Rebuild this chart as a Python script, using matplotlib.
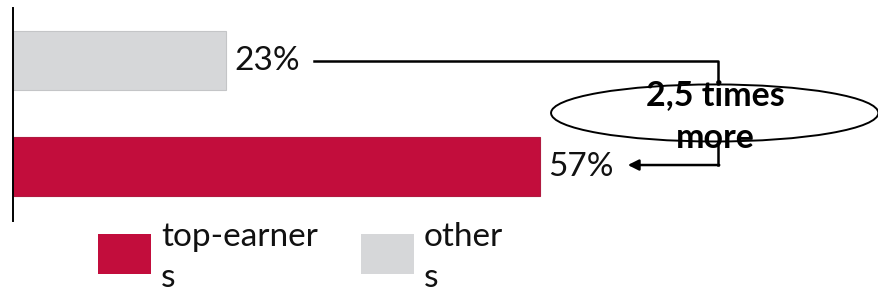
import matplotlib
matplotlib.use("Agg")
import matplotlib.pyplot as plt
from matplotlib.patches import Ellipse, Rectangle

# ---- data ----
categories = ["top-earners", "others"]
values = [57, 23]
value_labels = ["57%", "23%"]
colors = ["#C20D3C", "#D6D7D9"]
edge_colors = ["#B01A40", "#C4C5C7"]
legend_labels = ["top-earner\ns", "other\ns"]
callout_text = "2,5 times\nmore"

plt.rcParams['font.family'] = ['Lato', 'DejaVu Sans']

W, H = 879, 295
fig = plt.figure(figsize=(W / 100, H / 100), dpi=100)
ax = fig.add_axes([13 / W, 1 - 221 / H, (W - 13) / W, 213 / H])

ypos = list(range(len(categories)))
ax.barh(ypos, values, height=0.557, color=colors, edgecolor=edge_colors, linewidth=0.8)
ax.set_xlim(0, 866 / 9.245)
ax.set_ylim(-0.515, 1.498)

for y, v, lab in zip(ypos, values, value_labels):
    ax.text(v + 0.9, y, lab, va='center', ha='left', fontsize=24, color='#111111')

for s in ['top', 'right', 'bottom']:
    ax.spines[s].set_visible(False)
ax.spines['left'].set_linewidth(1.4)
ax.set_xticks([])
ax.set_yticks([])

# callout
xv = 76.3
ax.plot([32.6, xv, xv], [ypos[1], ypos[1], 0.776], color='black', lw=1.8)
ax.plot([xv, xv], [0.236, ypos[0] + 0.014], color='black', lw=1.8)
ax.annotate('', xy=(66.5, ypos[0] + 0.014), xytext=(xv + 0.09, ypos[0] + 0.014),
            arrowprops=dict(arrowstyle='-|>', color='black', lw=1.8,
                            mutation_scale=16, shrinkA=0, shrinkB=0))
ell = Ellipse((75.9, 0.506), 35.4, 0.539, fill=False, edgecolor='black', lw=1.4,
              clip_on=False)
ax.add_patch(ell)
ax.text(76.0, 0.47, callout_text, ha='center', va='center', fontsize=24.5,
        fontweight='bold', linespacing=1.42, color='black')

# legend (manual, figure pixel layout)
leg_x = [98, 361]
for x0, c, lab in zip(leg_x, colors, legend_labels):
    fig.patches.append(Rectangle((x0 / W, 1 - 274 / H), 53 / W, 40 / H,
                                 transform=fig.transFigure, facecolor=c,
                                 edgecolor='none'))
    fig.text((x0 + 63) / W, 1 - 287 / H, lab, ha='left', va='baseline',
             fontsize=24, linespacing=1.45, color='#111111')

fig.savefig('out.png', dpi=100)
